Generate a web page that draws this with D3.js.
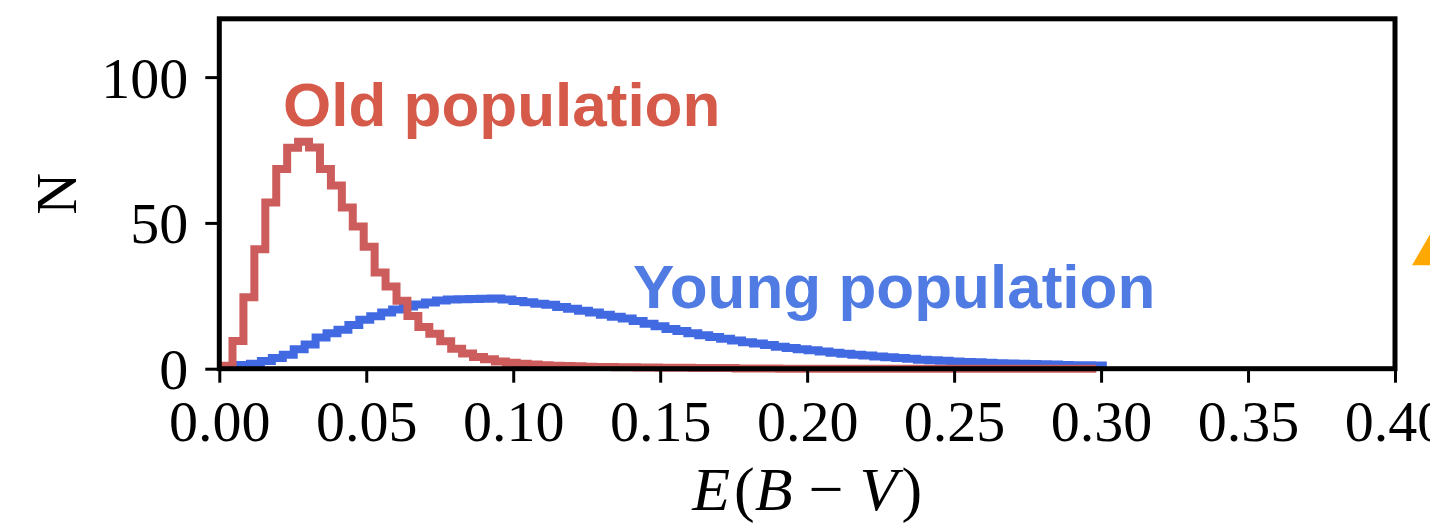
<!DOCTYPE html>
<html>
<head>
<meta charset="utf-8">
<script src="https://cdn.jsdelivr.net/npm/d3@7"></script>
<style>
  body { margin: 0; background: #fff; }
  svg { display: block; }
</style>
</head>
<body>
<div id="chart"></div>
<script>
// histogram bins (same width for both, different first edge)
var binWidth = 0.00372;
var oldStart = 0.00077;
var youngStart = 0.0030;

var oldCounts = [1, 9.5, 24.5, 41, 57, 68.5, 75.8, 77.8, 75.9, 68.5,
  62.8, 55.3, 48.8, 41.8, 33, 28.2, 23.3, 18.1, 14.3, 12,
  9.4, 6.8, 5.2, 4.0, 3.2, 2.5, 2.0, 1.7, 1.4, 1.2,
  1.0, 0.9, 0.8, 0.7, 0.6, 0.6, 0.5, 0.5, 0.4, 0.4,
  0.3, 0.3, 0.3, 0.2, 0.2, 0.2, 0.2, 0.1, 0.1, 0.1,
  0.1, 0, 0, 0, 0, 0, 0, 0, 0, 0,
  0, 0, 0, 0, 0, 0, 0, 0, 0, 0,
  0, 0, 0, 0, 0, 0, 0, 0, 0, 0];

var youngCounts = [0.9, 1.3, 1.7, 2.6, 3.7, 4.8, 6.7, 8.3, 10.7, 12.2,
  13.4, 15.0, 16.8, 18.0, 19.3, 20.3, 21.3, 22.0, 22.7, 23.4,
  23.7, 23.8, 23.9, 24.0, 24.1, 23.7, 23.2, 22.8, 22.3, 21.9,
  21.2, 20.6, 19.9, 19.3, 18.5, 17.8, 17.2, 16.4, 15.4, 14.6,
  13.6, 12.9, 12.2, 11.5, 10.9, 10.3, 9.7, 9.1, 8.6, 8.1,
  7.5, 7.1, 6.7, 6.3, 5.9, 5.5, 5.1, 4.8, 4.5, 4.2,
  3.9, 3.7, 3.4, 3.1, 2.9, 2.7, 2.5, 2.3, 2.2, 2.0,
  1.9, 1.8, 1.7, 1.6, 1.5, 1.4, 1.3, 1.2, 1.2, 1.1];

var xTicks = [0, 0.05, 0.10, 0.15, 0.20, 0.25, 0.30, 0.35, 0.40];
var yTicks = [0, 50, 100];

// piece of a marker from the neighbouring panel, cut by the page edge
var offPanelMarker = [{ x: 0.416, y: 41.4 }];

var width = 1430,
  height = 524;

var svg = d3.select('#chart')
  .append('svg')
  .attr('width', width)
  .attr('height', height);

var x = d3.scaleLinear().domain([0, 0.4]).range([219.3, 1395]);
var y = d3.scaleLinear().domain([0, 120]).range([368.7, 18.8]);

var serif = '"Liberation Serif", "DejaVu Serif", serif';
var sans = '"Liberation Sans", Arial, Helvetica, sans-serif';

function stepPoints(start, counts) {
  var pts = [[start, 0]];
  counts.forEach(function(c, i) {
    pts.push([start + i * binWidth, c]);
  });
  pts.push([start + counts.length * binWidth, 0]);
  return pts;
}

var line = d3.line()
  .x(function(d) { return x(d[0]); })
  .y(function(d) { return y(d[1]); })
  .curve(d3.curveStepAfter);

svg.append('path')
  .attr('d', line(stepPoints(youngStart, youngCounts)))
  .attr('fill', 'none')
  .attr('stroke', '#4169e1')
  .attr('stroke-width', 8)
  .attr('stroke-linejoin', 'miter');

svg.append('path')
  .attr('d', line(stepPoints(oldStart, oldCounts)))
  .attr('fill', 'none')
  .attr('stroke', '#cd5c5c')
  .attr('stroke-width', 8)
  .attr('stroke-linejoin', 'miter');

// labels
svg.append('text')
  .attr('x', 283)
  .attr('y', 126)
  .style('font-family', sans)
  .style('font-weight', 'bold')
  .style('font-size', '62px')
  .style('fill', '#d65a4a')
  .text('Old population');

svg.append('text')
  .attr('x', 633)
  .attr('y', 308)
  .style('font-family', sans)
  .style('font-weight', 'bold')
  .style('font-size', '62px')
  .style('fill', '#4f7be3')
  .text('Young population');

// axes
var xAxis = svg.append('g')
  .attr('transform', 'translate(0,' + y(0) + ')')
  .call(d3.axisBottom(x).tickValues(xTicks).tickSize(14).tickFormat(d3.format('.2f')));

var yAxis = svg.append('g')
  .attr('transform', 'translate(' + x(0) + ',0)')
  .call(d3.axisLeft(y).tickValues(yTicks).tickSize(14).tickFormat(d3.format('d')));

[xAxis, yAxis].forEach(function(a) {
  a.select('.domain').remove();
  a.selectAll('.tick line').attr('stroke', '#000').attr('stroke-width', 3);
  a.selectAll('.tick text')
    .style('font-family', serif)
    .style('font-size', '58px')
    .attr('fill', '#000');
});

xAxis.selectAll('.tick text').attr('y', 72).attr('dy', null);
yAxis.selectAll('.tick text').attr('x', -31).attr('dy', null).attr('y', 20);

// frame
svg.append('rect')
  .attr('x', x(0))
  .attr('y', y(120))
  .attr('width', x(0.4) - x(0))
  .attr('height', y(0) - y(120))
  .attr('fill', 'none')
  .attr('stroke', '#000')
  .attr('stroke-width', 5);

// axis titles
var xTitle = svg.append('text')
  .attr('x', (x(0) + x(0.4)) / 2)
  .attr('y', 510)
  .attr('text-anchor', 'middle')
  .style('font-family', serif)
  .style('font-size', '62px');
xTitle.append('tspan').style('font-style', 'italic').text('E');
xTitle.append('tspan').attr('dx', 4).text('(');
xTitle.append('tspan').style('font-style', 'italic').text('B');
xTitle.append('tspan').attr('dx', 16).text('\u2212');
xTitle.append('tspan').attr('dx', 16).style('font-style', 'italic').text('V');
xTitle.append('tspan').attr('dx', 4).text(')');

svg.append('text')
  .attr('transform', 'translate(76,' + ((y(0) + y(120)) / 2) + ') rotate(-90)')
  .attr('text-anchor', 'middle')
  .style('font-family', serif)
  .style('font-size', '58px')
  .text('N');

// cut-off marker on the right edge
svg.selectAll('.marker')
  .data(offPanelMarker)
  .enter()
  .append('path')
  .attr('class', 'marker')
  .attr('d', d3.symbol().type(d3.symbolTriangle).size(1560))
  .attr('transform', function(d) { return 'translate(' + x(d.x) + ',' + y(d.y) + ')'; })
  .attr('fill', '#ffa800');
</script>
</body>
</html>
